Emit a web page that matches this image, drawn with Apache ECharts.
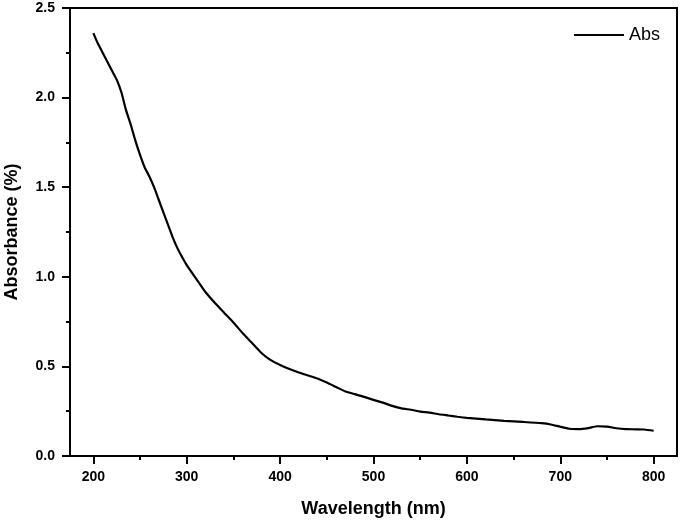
<!DOCTYPE html>
<html>
<head>
<meta charset="utf-8">
<script src="https://cdn.jsdelivr.net/npm/echarts@6/dist/echarts.min.js"></script>
<style>html,body{margin:0;padding:0;background:#fff}#c{width:680px;height:521px}</style>
</head>
<body>
<div id="c"></div>
<script>
const wavelengths = [200,205,210,215,220,225,230,235,240,245,250,255,260,265,270,275,280,285,290,295,300,310,320,330,340,350,360,370,380,390,400,410,420,430,440,450,460,470,480,490,500,510,520,530,540,550,560,570,580,590,600,620,640,660,680,690,700,710,720,730,740,750,760,770,780,790,800];
const absValues = [2.36,2.30,2.25,2.20,2.15,2.10,2.03,1.93,1.85,1.76,1.68,1.61,1.56,1.50,1.43,1.36,1.29,1.22,1.16,1.11,1.065,0.99,0.915,0.855,0.80,0.745,0.685,0.63,0.575,0.535,0.508,0.485,0.466,0.449,0.432,0.41,0.385,0.36,0.345,0.33,0.313,0.298,0.28,0.266,0.258,0.248,0.242,0.233,0.226,0.219,0.213,0.204,0.196,0.190,0.183,0.176,0.163,0.152,0.150,0.156,0.166,0.164,0.155,0.150,0.149,0.148,0.141];
const xMajorTicks = [200,300,400,500,600,700,800];
const xMinorTicks = [250,350,450,550,650,750];
const yTickLabels = ['0.0','0.5','1.0','1.5','2.0','2.5'];

const FONT = 'Liberation Sans, Arial, sans-serif';
const chart = echarts.init(document.getElementById('c'), null, {renderer:'canvas'});
const axisLine = {show:true, lineStyle:{color:'#000', width:2}};
chart.setOption({
  animation:false,
  backgroundColor:'#fff',
  grid:{left:70, right:3, top:8, bottom:65, containLabel:false, outerBoundsMode:'none', show:true, borderColor:'#000', borderWidth:2, backgroundColor:'transparent'},
  legend:{
    left:569, top:21, icon:'rect', itemWidth:50, itemHeight:2, itemGap:8,
    textStyle:{fontFamily:FONT, fontSize:18, color:'#000', padding:[0,0,0,0]},
    data:[{name:'Abs', itemStyle:{color:'#000'}}]
  },
  xAxis:[{
    type:'value', min:175, max:825, position:'bottom',
    name:'Wavelength (nm)', nameLocation:'middle', nameGap:44,
    nameTextStyle:{fontFamily:FONT, fontSize:18, fontWeight:'bold', color:'#000'},
    axisLine:axisLine,
    axisTick:{show:true, inside:false, length:8, lineStyle:{color:'#000', width:2}, customValues:xMajorTicks},
    axisLabel:{fontFamily:FONT, fontSize:14, fontWeight:'bold', color:'#000', margin:14, customValues:xMajorTicks},
    splitLine:{show:false}
  },{
    type:'value', min:175, max:825, position:'bottom',
    axisLine:{show:false},
    axisTick:{show:true, inside:false, length:4, lineStyle:{color:'#000', width:2}, customValues:xMinorTicks},
    axisLabel:{show:false, customValues:xMinorTicks},
    splitLine:{show:false}
  }],
  yAxis:{
    type:'value', min:0, max:2.5, interval:0.5,
    name:'Absorbance (%)', nameLocation:'middle', nameGap:49, nameRotate:90,
    nameTextStyle:{fontFamily:FONT, fontSize:18, fontWeight:'bold', color:'#000'},
    axisLine:axisLine,
    axisTick:{show:true, inside:false, length:8, lineStyle:{color:'#000', width:2}},
    minorTick:{show:true, splitNumber:2, length:4, lineStyle:{color:'#000', width:2}},
    axisLabel:{fontFamily:FONT, fontSize:14, fontWeight:'bold', color:'#000', margin:15,
      formatter:(v)=>yTickLabels[Math.round(v/0.5)]},
    splitLine:{show:false}, minorSplitLine:{show:false}
  },
  series:[{
    name:'Abs', type:'line', xAxisIndex:0, showSymbol:false, smooth:0.2,
    data:wavelengths.map((w,i)=>[w,absValues[i]]),
    lineStyle:{color:'#000', width:2.2}, itemStyle:{color:'#000'}
  }]
});
</script>
</body>
</html>
